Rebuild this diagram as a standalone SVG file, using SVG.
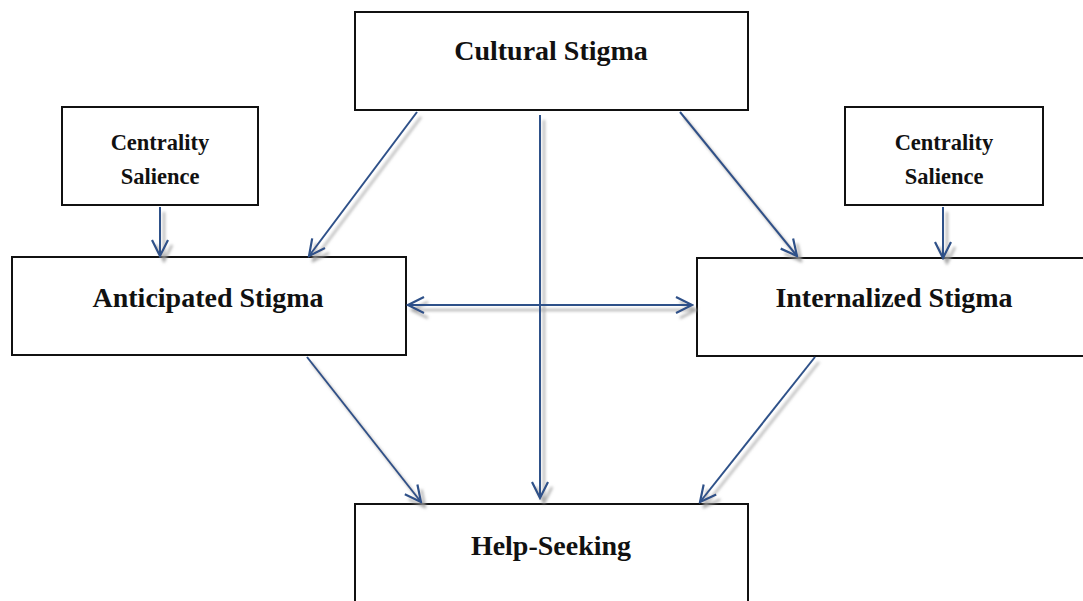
<svg xmlns="http://www.w3.org/2000/svg" width="1083" height="601" viewBox="0 0 1083 601">
<defs>
<style>
.box{fill:#fff;stroke:#111;stroke-width:2}
.t{font-family:"Liberation Serif","Times New Roman",serif;font-weight:bold;fill:#111;text-anchor:middle}
.big{font-size:28px}
.sm{font-size:22.5px}
.c{stroke:#2f5189;stroke-width:2;fill:none;marker-end:url(#ah)}
</style>
<marker id="ah" viewBox="0 0 20 20" refX="18" refY="10" markerWidth="20" markerHeight="20" markerUnits="userSpaceOnUse" orient="auto-start-reverse">
<path d="M2,2 L18,10 L2,18" fill="none" stroke="#2f5189" stroke-width="2.2"/>
</marker>
<filter id="sh" x="-20%" y="-20%" width="140%" height="140%">
<feDropShadow dx="4" dy="5" stdDeviation="1.6" flood-color="#999" flood-opacity="0.85"/>
</filter>
</defs>
<rect width="1083" height="601" fill="#fff"/>
<g id="cultural"><rect class="box" x="355" y="12" width="393" height="98"/><text class="t big" x="551" y="60">Cultural Stigma</text></g>
<g id="centrality-left"><rect class="box" x="62" y="107" width="196" height="98"/><text class="t sm" x="160" y="150">Centrality</text><text class="t sm" x="160" y="184">Salience</text></g>
<g id="centrality-right"><rect class="box" x="845" y="107" width="198" height="98"/><text class="t sm" x="944" y="150">Centrality</text><text class="t sm" x="944" y="184">Salience</text></g>
<g id="anticipated"><rect class="box" x="12" y="257" width="394" height="98"/><text class="t big" x="208" y="307">Anticipated Stigma</text></g>
<g id="internalized"><rect class="box" x="697" y="258" width="390" height="98"/><text class="t big" x="894" y="307">Internalized Stigma</text></g>
<g id="help"><rect class="box" x="355" y="504" width="393" height="100"/><text class="t big" x="551" y="555">Help-Seeking</text></g>
<g id="connectors" filter="url(#sh)">
<line class="c" x1="417" y1="112" x2="309" y2="256"/>
<line class="c" x1="680" y1="112" x2="797" y2="256"/>
<line class="c" x1="540" y1="115" x2="540" y2="498"/>
<line class="c" x1="160" y1="207" x2="160" y2="256"/>
<line class="c" x1="943" y1="207" x2="943" y2="258"/>
<line class="c" x1="408" y1="305" x2="692" y2="305" marker-start="url(#ah)"/>
<line class="c" x1="307" y1="357" x2="421" y2="502"/>
<line class="c" x1="815" y1="357" x2="700" y2="502"/>
</g>
</svg>
